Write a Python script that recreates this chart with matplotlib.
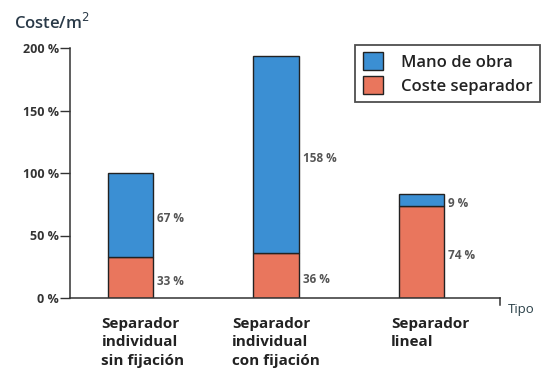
import matplotlib
matplotlib.use("Agg")
import matplotlib.pyplot as plt
from matplotlib.patches import Patch

categories = ["Separador\nindividual\nsin fijación",
              "Separador\nindividual\ncon fijación",
              "Separador\nlineal"]
coste_separador = [33, 36, 74]
mano_de_obra = [67, 158, 9]
yticks = [0, 50, 100, 150, 200]
ytick_labels = ["0 %", "50 %", "100 %", "150 %", "200 %"]

plt.rcParams['font.family'] = ['Open Sans', 'DejaVu Sans']

blue = "#3b8fd3"
orange = "#e9765d"
edge = "#222222"
textc = "#333333"

fig = plt.figure(figsize=(5.41, 3.71), dpi=100)
ax = fig.add_axes([70/541, 1-298/371, 430/541, 250/371])

x = list(range(len(categories)))
w = 0.31
ax.bar(x, coste_separador, width=w, color=orange, edgecolor=edge, linewidth=1.0, zorder=2)
ax.bar(x, mano_de_obra, width=w, bottom=coste_separador, color=blue, edgecolor=edge, linewidth=1.0, zorder=2)

for xi, c, m in zip(x, coste_separador, mano_de_obra):
    ax.text(xi + w/2 + 0.03, c/2 - 3, f"{c} %", fontsize=8.5, color="#555555",
            ha="left", va="center", fontweight="bold")
    ax.text(xi + w/2 + 0.03, c + m/2 - 3, f"{m} %", fontsize=8.5, color="#555555",
            ha="left", va="center", fontweight="bold")

ax.set_xlim(-0.416, 2.54)
ax.set_ylim(0, 200)
ax.set_yticks(yticks)
ax.set_yticklabels(ytick_labels, fontsize=9, fontweight="bold", color=textc)
ax.tick_params(axis="y", direction="out", length=7, width=1, color="#333333", pad=1)
ax.set_xticks([])
for s in ["top", "right"]:
    ax.spines[s].set_visible(False)
for s in ["left", "bottom"]:
    ax.spines[s].set_color("#333333")
    ax.spines[s].set_linewidth(1.1)

# category labels (left aligned below bars)
label_offsets = [-0.20, -0.30, -0.21]
for xi, lab, off in zip(x, categories, label_offsets):
    ax.text(xi + off, -15, lab, fontsize=11, color="#222222", ha="left", va="top",
            fontweight="bold", linespacing=1.42)

# end tick of x axis
ax.plot([1, 1], [0, -0.028], transform=ax.transAxes, color="#333333", lw=1.1, clip_on=False)
fig.text(508/541, 1-310/371, "Tipo", fontsize=9.5, color="#2a4048", ha="left", va="center")
fig.text(14/541, 1-23/371, "Coste/m$^2$", fontsize=12, color="#2a3a48", ha="left", va="center",
         fontweight="semibold")

handles = [Patch(facecolor=blue, edgecolor=edge, label="Mano de obra"),
           Patch(facecolor=orange, edgecolor=edge, label="Coste separador")]
leg = fig.legend(handles=handles, loc="upper left", bbox_to_anchor=(355/541, 1-45/371),
                 borderaxespad=0, frameon=True, fancybox=False, edgecolor="#222222",
                 handlelength=1.2, handleheight=1.2, borderpad=0.45, labelspacing=0.35,
                 handletextpad=1.1, prop={'weight': 'semibold', 'size': 12})
leg.get_frame().set_linewidth(1.3)
for t in leg.get_texts():
    t.set_color("#222222")

fig.savefig("out.png", dpi=100)
